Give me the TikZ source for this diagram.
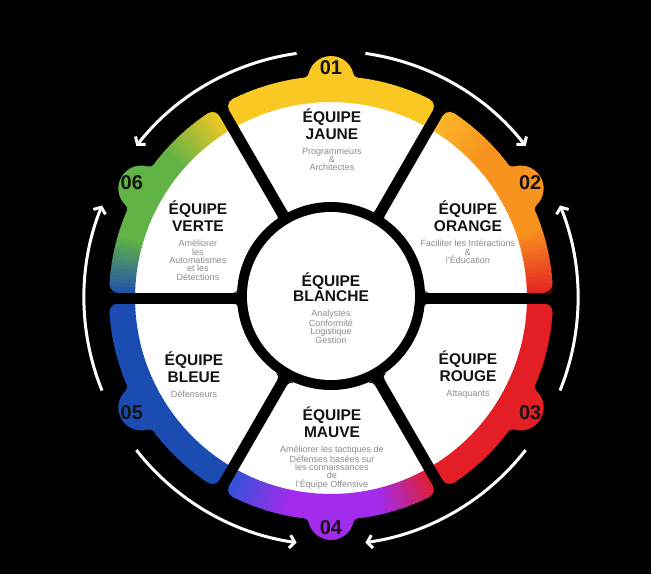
\documentclass[tikz,border=0pt]{standalone}
\usepackage{fontspec}
\setmainfont{Liberation Sans}
\usetikzlibrary{arrows.meta,positioning}

\definecolor{jaune}{HTML}{FAC823}
\definecolor{jauneclair}{HTML}{FDBA2A}
\definecolor{orangeE}{HTML}{F7931E}
\definecolor{rougeE}{HTML}{E31E24}
\definecolor{mauveE}{HTML}{A32BEB}
\definecolor{bleuclair}{HTML}{2B55D6}
\definecolor{bleueE}{HTML}{1B4CB2}
\definecolor{verteE}{HTML}{62B345}
\definecolor{gris}{HTML}{8C8C8C}
\definecolor{encre}{HTML}{141414}

\begin{document}
\begin{tikzpicture}[
  x=1pt,y=1pt,
  titre/.style={font=\fontsize{15.5}{17}\selectfont\bfseries,text=encre,align=center,inner sep=0pt},
  sous/.style={font=\fontsize{9}{8.3}\selectfont,text=gris,align=center,inner sep=0pt},
  numero/.style={font=\fontsize{20}{20}\selectfont\bfseries,text=encre,inner sep=0pt},
  fleche/.style={white,line width=3pt,-{Straight Barb[length=5pt,width=13pt]}}
]
\fill[black] (-331,-276) rectangle (320,298);
\useasboundingbox (-331,-276) rectangle (320,298);

% fond blanc et bande en degrade
\fill[white] (0,0) circle (197);
\foreach \s/\e/\cA/\cM/\cB in {60/120/jaune/jaune/jaune, 0/60/rougeE/orangeE/jauneclair,
  -60/0/rougeE/rougeE/rougeE, -120/-60/bleuclair/mauveE/rougeE,
  180/240/bleueE/bleueE/bleueE, 120/180/jaune/verteE/bleueE} {
  \foreach \k in {0,...,59} {
    \pgfmathsetmacro\a{\s+\k*(\e-\s)/60}
    \pgfmathsetmacro\b{\a+(\e-\s)/60+0.3}
    \ifnum\k<18
      \pgfmathtruncatemacro\p{100*\k/18}\colorlet{tranche}{\cM!\p!\cA}
    \else\ifnum\k>43
      \pgfmathtruncatemacro\p{100*(\k-43)/16}\colorlet{tranche}{\cB!\p!\cM}
    \else
      \colorlet{tranche}{\cM}
    \fi\fi
    \fill[tranche] (\a:196) arc[start angle=\a,end angle=\b,radius=196] -- (\b:222) arc[start angle=\b,end angle=\a,radius=222] -- cycle;
  }
}

% separations noires avec coins arrondis
\foreach \g in {0,60,...,300} {
  \begin{scope}[rotate=\g]
    \fill[black] (80,-5.5) rectangle (224,5.5);
    \fill[black] (213.57,5.5) -- (222.6,5.5) -- (221.55,14.0) arc[start angle=3.59,end angle=-90,radius=8] -- cycle;
    \fill[black] (213.57,-5.5) -- (222.6,-5.5) -- (221.55,-14.0) arc[start angle=-3.59,end angle=90,radius=8] -- cycle;
    \fill[black] (92,5.5) -- (92.47,9.96) arc[start angle=186.2,end angle=270,radius=5] -- cycle;
    \fill[black] (92,-5.5) -- (92.47,-9.96) arc[start angle=-186.2,end angle=-270,radius=5] -- cycle;
  \end{scope}
}

% cercle central
\fill[black] (0,2) circle (94);
\fill[white] (0,2) circle (84);

% onglets numerotes
\foreach \ang/\col/\num in {90/jaune/01, 30/orangeE/02, -30/rougeE/03, -90/mauveE/04, -150/bleueE/05, 150/verteE/06} {
  \begin{scope}[rotate=\ang-90]
    \fill[\col] (0,219) circle (23);
    \fill[\col] (0,219) -- (27.4,220.3) -- (28.1,226.3) -- (22.3,224.8) -- cycle;
    \fill[\col] (0,219) -- (-27.4,220.3) -- (-28.1,226.3) -- (-22.3,224.8) -- cycle;
    \fill[black] (28.1,226.3) circle (6) (-28.1,226.3) circle (6);
  \end{scope}
  \node[numero] (t\num) at (\ang:230) {\num};
}

% fleches
\foreach \a/\b in {82/38, -22/22, -38/-82, -142/-98, -158/-202, 98/142}
  \draw[fleche] (\a:247) arc[start angle=\a,end angle=\b,radius=247];

% textes
\node[titre,anchor=south] (jaune) at (1,158) {ÉQUIPE\\JAUNE};
\node[sous,below=8pt of jaune] (jauneSub) {Programmeurs\\\&\\Architectes};
\node[titre,anchor=south] (orange) at (137,66) {ÉQUIPE\\ORANGE};
\node[sous,below=8pt of orange] (orangeSub) {Faciliter les Intéractions\\\&\\l'Éducation};
\node[titre,anchor=south] (rouge) at (137,-84) {ÉQUIPE\\ROUGE};
\node[sous,below=8pt of rouge] (rougeSub) {Attaquants};
\node[titre,anchor=south] (mauve) at (1,-140) {ÉQUIPE\\MAUVE};
\node[sous,below=8pt of mauve] (mauveSub) {Améliorer les tactiques de\\Défenses basées sur\\les connaissances\\de\\l'Équipe Offensive};
\node[titre,anchor=south] (bleue) at (-137,-85) {ÉQUIPE\\BLEUE};
\node[sous,below=8pt of bleue] (bleueSub) {Défenseurs};
\node[titre,anchor=south] (verte) at (-133,66) {ÉQUIPE\\VERTE};
\node[sous,below=8pt of verte] (verteSub) {Améliorer\\les\\Automatismes\\et les\\Détections};
\node[titre,anchor=south,font=\fontsize{15.5}{15.5}\selectfont\bfseries] (blanche) at (0,-4) {ÉQUIPE\\BLANCHE};
\node[sous,below=8pt of blanche] (blancheSub) {Analystes\\Conformité\\Logistique\\Gestion};
\end{tikzpicture}
\end{document}
